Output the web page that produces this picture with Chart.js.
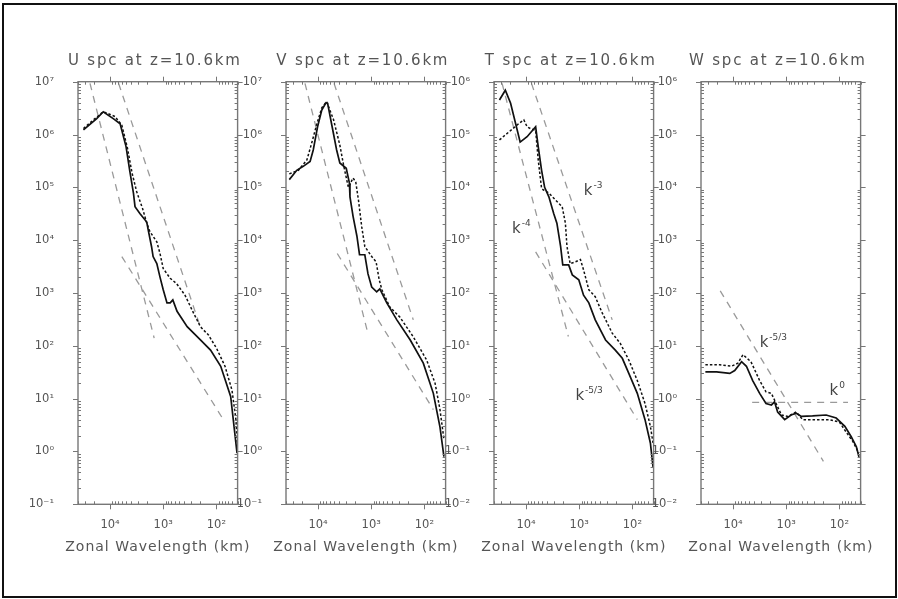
<!DOCTYPE html>
<html>
<head>
<meta charset="utf-8">
<script src="https://cdn.jsdelivr.net/npm/chart.js@4.4.0/dist/chart.umd.min.js"></script>
<style>
  body { margin: 0; background: #fff; width: 898px; height: 599px; position: relative; overflow: hidden; }
  .frame { position: absolute; left: 2px; top: 3px; width: 895px; height: 595px; box-sizing: border-box; border: 2px solid #111; }
  canvas { position: absolute; top: 0; }
</style>
</head>
<body>
<div class="frame"></div>
<canvas id="uSpc" width="240" height="599" style="left:18px"></canvas>
<canvas id="vSpc" width="240" height="599" style="left:225.8px"></canvas>
<canvas id="tSpc" width="240" height="599" style="left:433.6px"></canvas>
<canvas id="wSpc" width="240" height="599" style="left:641.4px"></canvas>
<script>
// tick labels
const xTicks = [1e4, 1e3, 1e2];
const uvTicks = [1e-1, 1, 1e1, 1e2, 1e3, 1e4, 1e5, 1e6, 1e7];
const twTicks = [1e-2, 1e-1, 1, 1e1, 1e2, 1e3, 1e4, 1e5, 1e6];

// U spectrum (wavelength km, energy)
const uSolidLam = [31600, 17800, 13400, 8700, 6460, 5000, 4270, 3630, 3390, 2750, 2040, 1900, 1660, 1550, 1320, 1150, 1000, 850, 740, 660, 550, 355, 200, 129, 83, 54, 41];
const uSolidE = [1.23e6, 2.0e6, 2.7e6, 2.0e6, 1.6e6, 5.9e5, 2.1e5, 7.8e4, 4.3e4, 3.2e4, 2.2e4, 1.5e4, 7.6e3, 4.9e3, 3.6e3, 2.0e3, 1.15e3, 650, 650, 740, 450, 230, 130, 83, 41, 11, 0.93];
const uDotLam = [31600, 20400, 13400, 8100, 6000, 4700, 3870, 3160, 2450, 2040, 1780, 1320, 1150, 1000, 740, 560, 390, 270, 200, 141, 99, 69, 51, 43, 40];
const uDotE = [1.3e6, 1.9e6, 2.7e6, 2.2e6, 1.5e6, 5.5e5, 1.9e5, 8.3e4, 4.0e4, 2.1e4, 1.45e4, 9.3e3, 5.6e3, 2.9e3, 1.9e3, 1.5e3, 910, 420, 230, 160, 89, 41, 14.5, 4.0, 1.2];

// V spectrum
const vSolidLam = [34700, 25100, 19000, 14100, 12300, 10200, 8500, 7100, 6600, 5500, 4470, 3890, 2950, 2570, 2510, 2190, 1860, 1660, 1320, 1150, 980, 790, 690, 510, 330, 186, 105, 68, 51, 43];
const vSolidE = [1.4e5, 2.1e5, 2.5e5, 3.1e5, 5.1e5, 1.4e6, 2.9e6, 4.0e6, 3.9e6, 1.5e6, 5.1e5, 2.9e5, 2.3e5, 1.2e5, 6.6e4, 2.8e4, 1.2e4, 5.3e3, 5.3e3, 2.3e3, 1.3e3, 1.05e3, 1.2e3, 650, 310, 130, 47, 12.6, 2.9, 0.8];
const vDotLam = [34700, 23400, 16200, 13200, 10500, 8500, 6900, 5100, 3890, 3300, 2690, 2190, 1950, 1740, 1510, 1320, 980, 810, 710, 630, 450, 290, 162, 91, 63, 51, 43];
const vDotE = [1.8e5, 2.1e5, 3.3e5, 6.8e5, 1.6e6, 3.2e6, 4.2e6, 1.9e6, 6.3e5, 2.6e5, 1.0e5, 1.5e5, 1.25e5, 5.8e4, 1.8e4, 7.6e3, 4.9e3, 3.9e3, 1.8e3, 1.15e3, 550, 350, 148, 54, 19.5, 6.2, 1.7];

// T spectrum
const tSolidLam = [31600, 24500, 19500, 12900, 9550, 6600, 5900, 5100, 4470, 3720, 3020, 2630, 2240, 2040, 1580, 1350, 1020, 830, 660, 500, 320, 210, 155, 117, 81, 58, 46, 41];
const tSolidE = [4.5e5, 6.9e5, 3.9e5, 7.2e4, 9.1e4, 1.4e5, 5.9e4, 2.1e4, 1.0e4, 6.6e3, 3.2e3, 2.1e3, 760, 340, 340, 220, 178, 91, 65, 31, 12.9, 8.3, 5.8, 3.0, 1.26, 0.40, 0.145, 0.051];
const tDotLam = [31600, 21400, 13800, 11000, 9550, 8300, 6600, 5900, 5100, 4680, 3720, 2820, 2090, 1820, 1700, 1480, 1170, 950, 830, 660, 500, 370, 240, 170, 117, 81, 58, 46, 41];
const tDotE = [7.9e4, 1.1e5, 1.6e5, 1.9e5, 1.4e5, 1.3e5, 1.2e5, 3.3e4, 9.5e3, 8.9e3, 7.8e3, 5.8e3, 4.3e3, 2.1e3, 760, 360, 390, 430, 275, 115, 85, 42, 17.4, 11.2, 5.4, 2.2, 0.81, 0.30, 0.145];

// W spectrum
const wSolidLam = [33100, 20400, 11500, 9300, 6900, 5600, 4270, 3160, 2400, 1900, 1660, 1450, 1070, 810, 650, 520, 320, 178, 115, 79, 60, 48, 43];
const wSolidE = [3.2, 3.2, 3.0, 3.4, 5.0, 4.1, 2.2, 1.26, 0.81, 0.76, 0.87, 0.56, 0.40, 0.49, 0.53, 0.46, 0.47, 0.49, 0.43, 0.30, 0.19, 0.123, 0.079];
const wDotLam = [33100, 17800, 10700, 8100, 6500, 4600, 3160, 2400, 1900, 1550, 1230, 930, 650, 490, 275, 155, 100, 74, 56, 43];
const wDotE = [4.4, 4.4, 4.1, 4.7, 6.8, 5.0, 2.2, 1.35, 1.26, 0.81, 0.49, 0.46, 0.56, 0.40, 0.40, 0.40, 0.36, 0.23, 0.155, 0.093];

// power law guide lines [wavelengths, energies]
const uGuides = [[[23800, 1480], [9.3e6, 1.4e2]], [[6900, 210], [9.3e6, 2.6e2]], [[6000, 74], [4.9e3, 4.0]]];
const vGuides = [[[17600, 1135], [9.3e6, 1.6e2]], [[5000, 162], [9.3e6, 3.1e2]], [[4350, 68], [5.6e3, 6.2]]];
const tGuides = [[[28200, 1600], [9.3e5, 15]], [[7900, 240], [9.3e5, 31]], [[6600, 81], [600, 0.40]]];
const wGuides = [[[17400, 200], [110, 0.065]], [[4370, 69], [0.85, 0.85]]];

// slope labels
const tMarks = [{ sup: "-3", lam: 824, e: 7160 }, { sup: "-4", lam: 18300, e: 1370 }, { sup: "-5/3", lam: 1180, e: 0.944 }];
const wMarks = [{ sup: "-5/3", lam: 3160, e: 9.5 }, { sup: "0", lam: 153, e: 1.17 }];

const FONT = '"DejaVu Sans", sans-serif';
const supDigits = { "0": "⁰", "1": "¹", "2": "²", "3": "³", "4": "⁴", "5": "⁵", "6": "⁶", "7": "⁷", "8": "⁸", "9": "⁹", "-": "⁻" };

function pow10(v) {
  const e = Math.round(Math.log10(v));
  return "10" + String(e).split("").map((c) => supDigits[c]).join("");
}

function pts(xs, ys) {
  return xs.map((x, i) => ({ x: x, y: ys[i] }));
}

// frame, log ticks, titles and slope labels
const panelDeco = {
  id: "panelDeco",
  afterDraw(chart, args, opts) {
    const ctx = chart.ctx;
    const a = chart.chartArea;
    const xs = chart.scales.x;
    const ys = chart.scales.y;
    ctx.save();
    ctx.strokeStyle = "#777";
    ctx.lineWidth = 1.4;
    ctx.strokeRect(a.left, a.top, a.right - a.left, a.bottom - a.top);

    ctx.lineWidth = 1;
    ctx.beginPath();
    for (let d = 1; d <= 4; d++) {
      for (let m = 1; m <= 9; m++) {
        const v = m * Math.pow(10, d);
        if (v < xs.min || v > xs.max) continue;
        const px = Math.round(xs.getPixelForValue(v)) + 0.5;
        if (m === 1) {
          ctx.moveTo(px, a.bottom); ctx.lineTo(px, a.bottom + 5);
          ctx.moveTo(px, a.top); ctx.lineTo(px, a.top - 5);
        } else {
          ctx.moveTo(px, a.bottom); ctx.lineTo(px, a.bottom - 3);
          ctx.moveTo(px, a.top); ctx.lineTo(px, a.top + 3);
        }
      }
    }
    const e0 = Math.round(Math.log10(ys.min));
    const e1 = Math.round(Math.log10(ys.max));
    for (let d = e0; d <= e1; d++) {
      for (let m = 1; m <= 9; m++) {
        const v = m * Math.pow(10, d);
        if (v > ys.max * 1.0001) continue;
        const py = Math.round(ys.getPixelForValue(v)) + 0.5;
        if (m === 1) {
          ctx.moveTo(a.left, py); ctx.lineTo(a.left - 5, py);
          ctx.moveTo(a.right, py); ctx.lineTo(a.right + 5, py);
        } else {
          ctx.moveTo(a.left, py); ctx.lineTo(a.left + 3, py);
          ctx.moveTo(a.right, py); ctx.lineTo(a.right - 3, py);
        }
      }
    }
    ctx.stroke();

    const cx = (a.left + a.right) / 2;
    ctx.fillStyle = "#555";
    ctx.textAlign = "center";
    ctx.textBaseline = "alphabetic";
    ctx.font = "15px " + FONT;
    ctx.letterSpacing = "1.8px";
    ctx.fillText(opts.title, cx - 3, 65);
    ctx.font = "14px " + FONT;
    ctx.letterSpacing = "1px";
    ctx.fillText("Zonal Wavelength (km)", cx, 551);

    ctx.letterSpacing = "0px";
    ctx.textAlign = "left";
    ctx.fillStyle = "#444";
    (opts.marks || []).forEach((mk) => {
      const x = xs.getPixelForValue(mk.lam);
      const y = ys.getPixelForValue(mk.e);
      ctx.font = "15px " + FONT;
      ctx.fillText("k", x, y);
      const w = ctx.measureText("k").width;
      ctx.font = "9px " + FONT;
      ctx.fillText(mk.sup, x + w + 1, y - 7);
    });
    ctx.restore();
  },
};

function makePanel(id, title, yMin, yMax, yTicks, solidLam, solidE, dotLam, dotE, guides, marks) {
  let datasets = [
    { data: pts(solidLam, solidE), borderColor: "#111", borderWidth: 1.7 },
    { data: pts(dotLam, dotE), borderColor: "#111", borderWidth: 1.5, borderDash: [2.5, 2] },
  ];
  guides.forEach((g) => {
    datasets.push({ data: pts(g[0], g[1]), borderColor: "#9a9a9a", borderWidth: 1.3, borderDash: [7, 6] });
  });
  datasets = datasets.map((d) => Object.assign({ showLine: true, pointRadius: 0, tension: 0, fill: false }, d));

  new Chart(document.getElementById(id), {
    type: "scatter",
    data: { datasets: datasets },
    options: {
      responsive: false,
      animation: false,
      devicePixelRatio: 1,
      layout: { padding: { left: 0, right: 20.4, top: 81.7, bottom: 64.7 } },
      plugins: {
        legend: { display: false },
        tooltip: { enabled: false },
        panelDeco: { title: title, marks: marks },
      },
      scales: {
        x: {
          type: "logarithmic",
          reverse: true,
          min: 40,
          max: 40000,
          grid: { display: false },
          border: { display: false },
          afterBuildTicks: (s) => { s.ticks = xTicks.map((v) => ({ value: v })); },
          afterFit: (s) => { s.height = 30; },
          ticks: {
            callback: (v) => pow10(v),
            padding: 6,
            color: "#555",
            font: { family: FONT, size: 11.5 },
            maxRotation: 0,
            autoSkip: false,
          },
        },
        y: {
          type: "logarithmic",
          min: yMin,
          max: yMax,
          grid: { display: false },
          border: { display: false },
          afterBuildTicks: (s) => { s.ticks = yTicks.map((v) => ({ value: v })); },
          afterFit: (s) => { s.width = 60; },
          ticks: {
            callback: (v) => pow10(v),
            padding: 16,
            color: "#555",
            font: { family: FONT, size: 11.5 },
            autoSkip: false,
          },
        },
      },
    },
    plugins: [panelDeco],
  });
}

makePanel("uSpc", "U spc at z=10.6km", 1e-1, 1e7, uvTicks, uSolidLam, uSolidE, uDotLam, uDotE, uGuides, []);
makePanel("vSpc", "V spc at z=10.6km", 1e-1, 1e7, uvTicks, vSolidLam, vSolidE, vDotLam, vDotE, vGuides, []);
makePanel("tSpc", "T spc at z=10.6km", 1e-2, 1e6, twTicks, tSolidLam, tSolidE, tDotLam, tDotE, tGuides, tMarks);
makePanel("wSpc", "W spc at z=10.6km", 1e-2, 1e6, twTicks, wSolidLam, wSolidE, wDotLam, wDotE, wGuides, wMarks);
</script>
</body>
</html>
